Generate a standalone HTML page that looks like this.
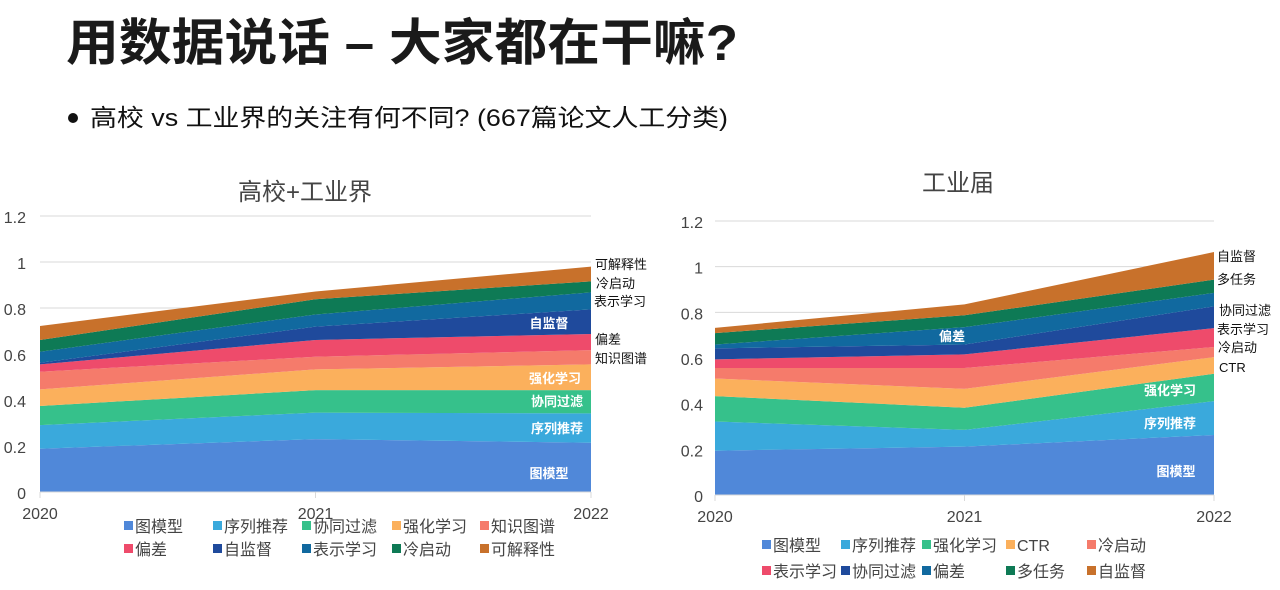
<!DOCTYPE html>
<html><head><meta charset="utf-8">
<style>
body{margin:0;background:#fff;width:1280px;height:590px;overflow:hidden;font-family:"Liberation Sans","Noto Sans CJK SC",sans-serif}
svg{display:block}
text{font-family:"Liberation Sans","Noto Sans CJK SC",sans-serif}
</style></head><body>
<svg id="s" width="1280" height="590" xmlns="http://www.w3.org/2000/svg">
<text x="66" y="60" font-size="50" font-weight="bold" fill="#1a1a1a" textLength="672" lengthAdjust="spacingAndGlyphs">用数据说话 – 大家都在干嘛?</text>
<circle cx="73" cy="118" r="5" fill="#111"/>
<text x="90" y="126" font-size="24" fill="#111" textLength="638" lengthAdjust="spacingAndGlyphs">高校 vs 工业界的关注有何不同? (667篇论文人工分类)</text>
<text x="305" y="200" font-size="24" fill="#444" text-anchor="middle">高校+工业界</text>
<text x="958" y="191" font-size="24" fill="#444" text-anchor="middle">工业届</text>
</svg>
<script>
const years=['2020','2021','2022'];
const yTicks=['0','0.2','0.4','0.6','0.8','1','1.2'];
// Left chart (高校+工业界)
const leftNames=['图模型','序列推荐','协同过滤','强化学习','知识图谱','偏差','自监督','表示学习','冷启动','可解释性'];
const leftGraph=[0.188,0.230,0.214];
const leftSeq=[0.103,0.115,0.128];
const leftCF=[0.083,0.098,0.101];
const leftRL=[0.072,0.090,0.112];
const leftKG=[0.077,0.055,0.062];
const leftBias=[0.032,0.073,0.070];
const leftSSL=[0.007,0.058,0.107];
const leftRepr=[0.048,0.053,0.074];
const leftCold=[0.051,0.066,0.048];
const leftExpl=[0.061,0.034,0.064];
const leftColors=['#5088d9','#3aa9dc','#36c18b','#fbb05c','#f57b6b','#ee4b6b','#1f4a9c','#11699f','#0e7a55','#c8712b'];
// Right chart (工业届)
const rightNames=['图模型','序列推荐','强化学习','CTR','冷启动','表示学习','协同过滤','偏差','多任务','自监督'];
const rightGraph=[0.194,0.212,0.263];
const rightSeq=[0.128,0.073,0.148];
const rightRL=[0.111,0.097,0.120];
const rightCTR=[0.077,0.083,0.073];
const rightCold=[0.046,0.091,0.044];
const rightRepr=[0.038,0.060,0.083];
const rightCF=[0.048,0.043,0.095];
const rightBias=[0.017,0.076,0.059];
const rightMulti=[0.050,0.052,0.058];
const rightSSL=[0.023,0.048,0.121];
const rightColors=['#5088d9','#3aa9dc','#36c18b','#fbb05c','#f57b6b','#ee4b6b','#1f4a9c','#11699f','#0e7a55','#c8712b'];

const NS='http://www.w3.org/2000/svg';
const svg=document.getElementById('s');
function mk(tag,attrs,parent){const e=document.createElementNS(NS,tag);for(const k in attrs)e.setAttribute(k,attrs[k]);(parent||svg).appendChild(e);return e;}

function chart(cfg){
  const g=mk('g',{});
  
  
  const x=i=>cfg.x0+(cfg.x1-cfg.x0)*i/(years.length-1);
  const y=v=>cfg.y0-(cfg.y0-cfg.yTop)*v/1.2;
  yTicks.forEach(t=>{
    const v=parseFloat(t);
    const l=mk('line',{x1:cfg.x0,x2:cfg.x1,y1:y(v),y2:y(v),stroke:'#d9d9d9','stroke-width':1},g);
    
    
    const tx=mk('text',{x:cfg.x0-cfg.tickGap,y:y(v)+7,'font-size':16,fill:'#444','text-anchor':'end'},g);
    tx.textContent=t;
    
    
  });
  const cum=years.map(()=>0);
  cfg.series.forEach((s,si)=>{
    const lo=cum.slice();
    s.forEach((v,i)=>cum[i]+=v);
    let d='';
    years.forEach((_,i)=>{d+=(i?'L':'M')+x(i)+','+y(cum[i]);});
    for(let i=years.length-1;i>=0;i--)d+='L'+x(i)+','+y(lo[i]);
    const p=mk('path',{d:d+'Z',fill:cfg.colors[si]},g);
    
    
  });
  mk('line',{x1:cfg.x0,x2:cfg.x1,y1:cfg.y0,y2:cfg.y0,stroke:'#d9d9d9'},g);
  years.forEach((yr,i)=>{
    mk('line',{x1:x(i),x2:x(i),y1:cfg.y0,y2:cfg.y0+6,stroke:'#d9d9d9'},g);
    const t=mk('text',{x:x(i),y:cfg.y0+27,'font-size':16,fill:'#444','text-anchor':'middle'},g);
    t.textContent=yr;
    
    
  });
  cfg.labels.forEach(l=>{
    const t=mk('text',{x:l[1],y:l[2],'font-size':13,fill:l[3],'font-weight':l[3]=='#fff'?'bold':'normal','text-anchor':l[4]||'start'},g);
    t.textContent=l[0];
    
    
  });
  cfg.names.forEach((n,i)=>{
    const r=Math.floor(i/5),c=i%5;
    const lx=cfg.legX[c],ly=cfg.legY[r];
    const item=mk('g',{},g);
    
    
    mk('rect',{x:lx,y:ly-5,width:9,height:9,fill:cfg.colors[i]},item);
    const t=mk('text',{x:lx+11,y:ly+6,'font-size':16,fill:'#444'},item);
    t.textContent=n;
  });
}
chart({name:'left-chart',x0:40,x1:591,y0:492,yTop:216,tickGap:14,names:leftNames,colors:leftColors,
  series:[leftGraph,leftSeq,leftCF,leftRL,leftKG,leftBias,leftSSL,leftRepr,leftCold,leftExpl],
  legX:[124,213,302,392,480],legY:[526,549],
  labels:[['自监督',549,328,'#fff','middle'],['强化学习',555,383,'#fff','middle'],['协同过滤',557,406,'#fff','middle'],['序列推荐',557,433,'#fff','middle'],['图模型',549,478,'#fff','middle'],
  ['可解释性',595,269,'#111'],['冷启动',596,288,'#111'],['表示学习',594,306,'#111'],['偏差',595,344,'#111'],['知识图谱',595,363,'#111']]});
chart({name:'right-chart',x0:715,x1:1214,y0:495,yTop:221,tickGap:12,names:rightNames,colors:rightColors,
  series:[rightGraph,rightSeq,rightRL,rightCTR,rightCold,rightRepr,rightCF,rightBias,rightMulti,rightSSL],
  legX:[762,841,922,1006,1087],legY:[545,571],
  labels:[['偏差',952,341,'#fff','middle'],['强化学习',1170,395,'#fff','middle'],['序列推荐',1170,428,'#fff','middle'],['图模型',1176,476,'#fff','middle'],
  ['自监督',1217,261,'#111'],['多任务',1217,284,'#111'],['协同过滤',1219,315,'#111'],['表示学习',1217,334,'#111'],['冷启动',1218,352,'#111'],['CTR',1219,372,'#111']]});
</script>
</body></html>
